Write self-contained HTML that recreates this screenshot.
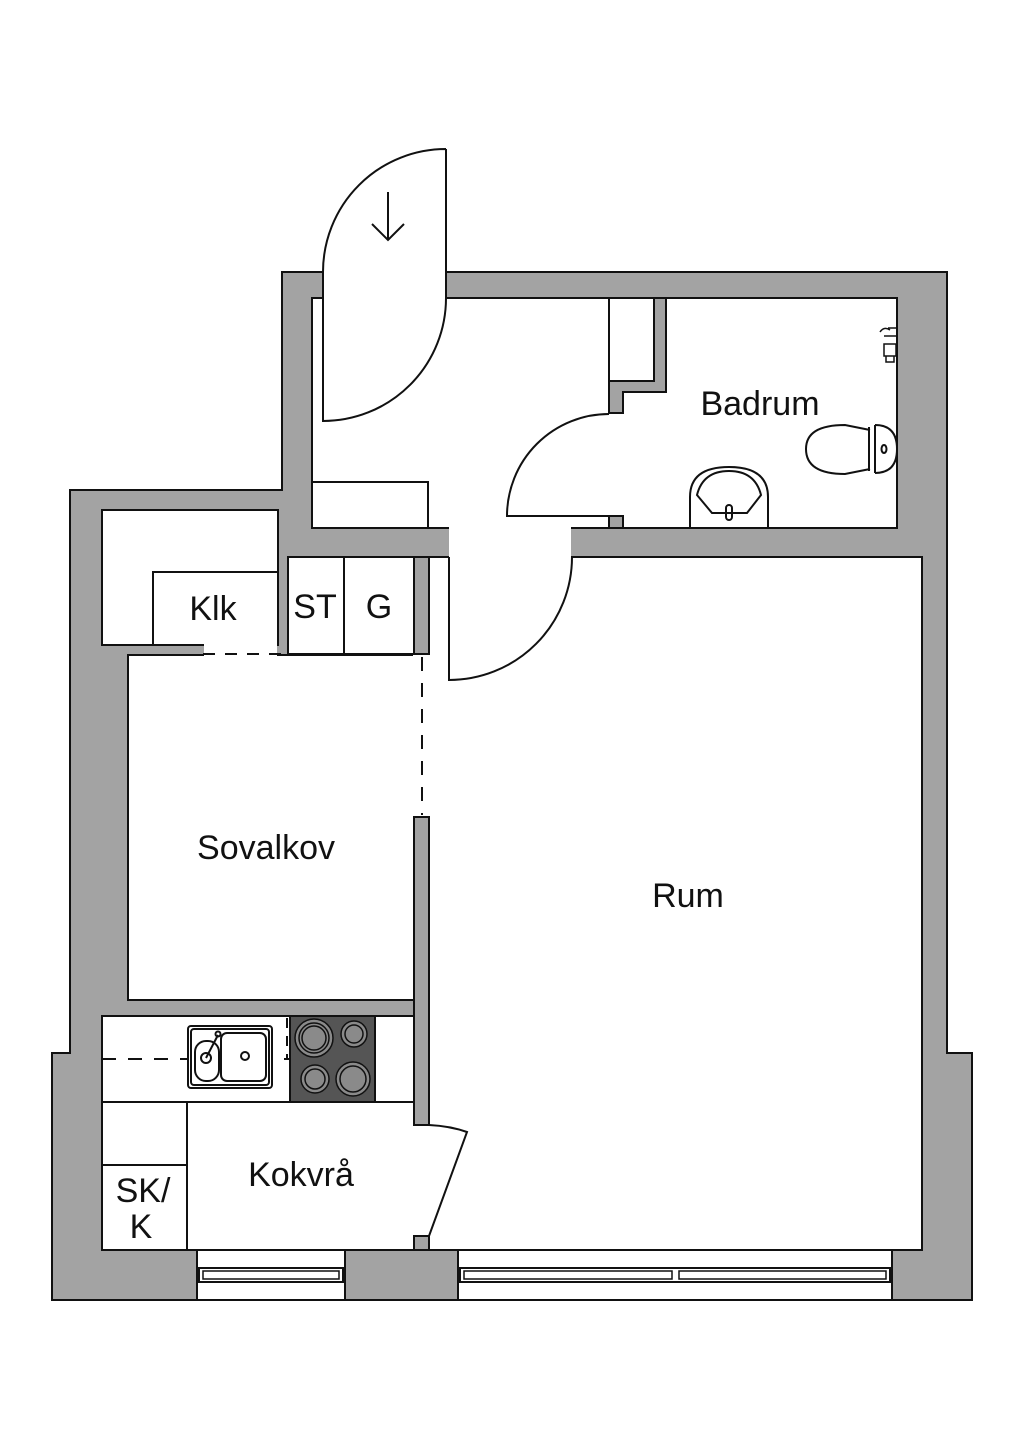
<!DOCTYPE html>
<html><head><meta charset="utf-8"><style>
html,body{margin:0;padding:0;background:#fff}
svg{display:block}
text{font-family:"Liberation Sans",sans-serif;font-size:34px;fill:#111}
</style></head><body>
<svg width="1024" height="1449" viewBox="0 0 1024 1449" xmlns="http://www.w3.org/2000/svg">
<g stroke="#111" stroke-width="2" fill="none">
<!-- outer walls -->
<polygon points="282,272 947,272 947,1053 972,1053 972,1300 52,1300 52,1053 70,1053 70,490 282,490" fill="#a3a3a3"/>
<!-- rooms -->
<rect x="312" y="298" width="297" height="230" fill="#fff"/>
<rect x="609" y="298" width="45" height="83" fill="#fff"/>
<polygon points="666,298 897,298 897,528 623,528 623,392 666,392" fill="#fff"/>
<rect x="429" y="557" width="493" height="693" fill="#fff"/>
<rect x="102" y="510" width="176" height="135" fill="#fff"/>
<rect x="128" y="655" width="286" height="345" fill="#fff"/>
<rect x="288" y="557" width="126" height="97" fill="#fff"/>
<line x1="344" y1="557" x2="344" y2="654"/>
<rect x="102" y="1016" width="312" height="234" fill="#fff"/>
<rect x="312" y="482" width="116" height="46" fill="#fff"/>
<rect x="153" y="572" width="125" height="73" fill="#fff"/>
</g>
<!-- openings -->
<g fill="#fff">
<rect x="324" y="271" width="121" height="28"/>
<rect x="608" y="414" width="16" height="101"/>
<rect x="449" y="527" width="122" height="31"/>
<rect x="204" y="644" width="73" height="12"/>
<rect x="413" y="655" width="17" height="162"/>
<rect x="413" y="1126" width="17" height="110"/>
</g>
<g stroke="#111" stroke-width="2" fill="#a3a3a3">
<polygon points="654,298 666,298 666,392 623,392 623,413 609,413 609,381 654,381"/>
<rect x="609" y="516" width="14" height="12"/>
<rect x="414" y="557" width="15" height="97"/>
<rect x="414" y="817" width="15" height="308"/>
<rect x="414" y="1236" width="15" height="14"/>
</g>
<g stroke="#111" stroke-width="2" fill="none">
<line x1="203" y1="654" x2="288" y2="654" stroke-dasharray="12,10"/>
<line x1="422" y1="657" x2="422" y2="815" stroke-dasharray="14,12"/>
<!-- entry door -->
<path d="M446,149 L446,298 M446,149 A123,123 0 0 0 323,272 L323,421 A123,123 0 0 0 446,298"/>
<path d="M388,192 L388,240 M372,224 L388,240 L404,224"/>
<!-- bath door -->
<path d="M609,516 L507,516 A102,102 0 0 1 609,414"/>
<!-- rum door -->
<path d="M449,557 L449,680 A123,123 0 0 0 572,557"/>
<!-- kitchen door -->
<path d="M429,1125 Q450,1126 467,1132 L429,1236"/>
<!-- toilet -->
<path d="M870,430 L845,425 Q806,425 806,449 Q806,474 845,474 L870,469"/>
<path d="M869,427 L869,471 M875,425 L875,473 M875,425 Q897,425 897,449 Q897,473 875,473"/>
<ellipse cx="884" cy="449" rx="2.5" ry="4"/>
<!-- sink -->
<path d="M690,528 L690,497 Q690,467 729,467 Q768,467 768,497 L768,528"/>
<path d="M697,495 L712,513 L747,513 L761,495 Q755,471 729,471 Q703,471 697,495 Z"/>
<rect x="726" y="505" width="6" height="15" rx="3"/>
<!-- shower fixture -->
<path d="M888,328 L897,328 M884,336 L897,336 M880,332 Q884,326 890,330 M884,344 L896,344 L896,356 L884,356 Z M886,356 L886,362 L894,362 L894,356" stroke-width="1.5"/>
<!-- kitchen -->
<line x1="102" y1="1102" x2="414" y2="1102"/>
<line x1="187" y1="1102" x2="187" y2="1250"/>
<line x1="102" y1="1165" x2="187" y2="1165"/>
<line x1="102" y1="1059" x2="290" y2="1059" stroke-dasharray="14,12"/>
<line x1="287" y1="1018" x2="287" y2="1058" stroke-dasharray="10,8"/>
<rect x="188" y="1026" width="84" height="62" rx="3" fill="#fff"/>
<rect x="191" y="1029" width="78" height="56" rx="3"/>
<rect x="195" y="1041" width="24" height="40" rx="11"/>
<rect x="221" y="1033" width="45" height="48" rx="6"/>
<circle cx="206" cy="1058" r="5"/>
<circle cx="245" cy="1056" r="4"/>
<path d="M206,1058 L218,1035"/><circle cx="218" cy="1034" r="2.5"/>
<rect x="290" y="1016" width="85" height="86" fill="#555"/>
<g fill="#8a8a8a" stroke="#111" stroke-width="1.5">
<circle cx="314" cy="1038" r="19"/><circle cx="314" cy="1038" r="15"/><circle cx="314" cy="1038" r="12"/>
<circle cx="354" cy="1034" r="13"/><circle cx="354" cy="1034" r="9"/>
<circle cx="315" cy="1079" r="14"/><circle cx="315" cy="1079" r="10"/>
<circle cx="353" cy="1079" r="17"/><circle cx="353" cy="1079" r="13"/>
</g>
<!-- windows -->
<rect x="197" y="1250" width="148" height="50" fill="#fff"/>
<rect x="199" y="1268" width="144" height="14"/>
<rect x="203" y="1271" width="136" height="8" stroke-width="1.5"/>
<rect x="458" y="1250" width="434" height="50" fill="#fff"/>
<rect x="460" y="1268" width="430" height="14"/>
<rect x="464" y="1271" width="208" height="8" stroke-width="1.5"/>
<rect x="679" y="1271" width="207" height="8" stroke-width="1.5"/>
</g>
<text x="760" y="415" text-anchor="middle">Badrum</text>
<text x="213" y="620" text-anchor="middle">Klk</text>
<text x="315" y="618" text-anchor="middle">ST</text>
<text x="379" y="618" text-anchor="middle">G</text>
<text x="266" y="859" text-anchor="middle">Sovalkov</text>
<text x="688" y="907" text-anchor="middle">Rum</text>
<text x="301" y="1186" text-anchor="middle">Kokvrå</text>
<text x="143" y="1202" text-anchor="middle">SK/</text>
<text x="141" y="1238" text-anchor="middle">K</text>
</svg>
</body></html>
